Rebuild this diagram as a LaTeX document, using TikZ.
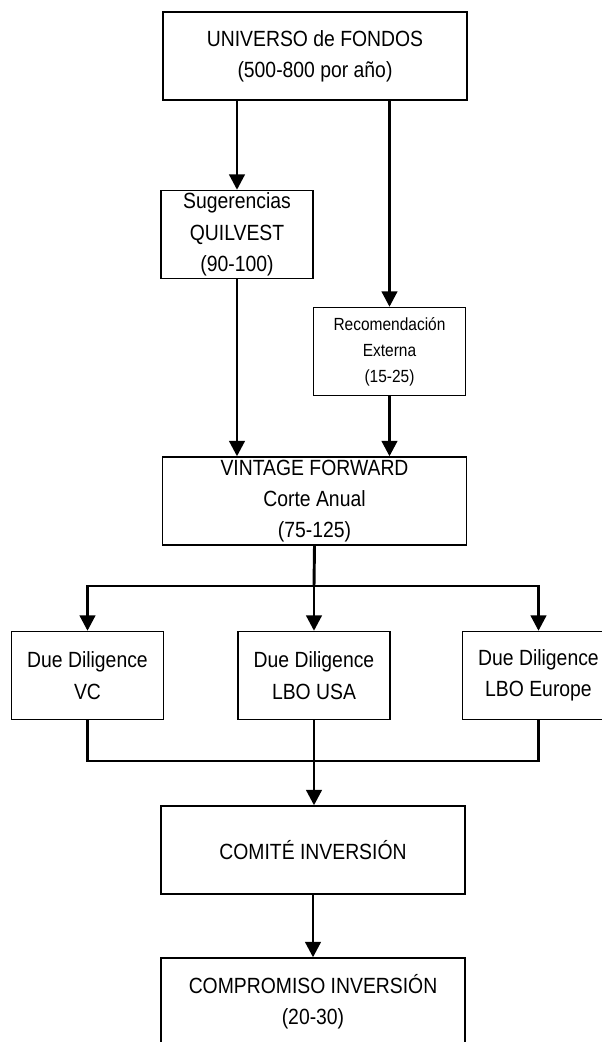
\documentclass[tikz,border=0pt]{standalone}
\usepackage{fontspec}
\setmainfont{Liberation Sans}[FakeStretch=0.88]
\usetikzlibrary{arrows.meta}
\begin{document}
\begin{tikzpicture}[x=0.75pt,y=-0.75pt,
  box/.style={draw=black, line width=1.05pt, fill=white, inner sep=0pt,
    align=center, font=\fontsize{16.5pt}{23.5pt}\selectfont},
  bigbox/.style={box, minimum width=228pt, minimum height=66pt},
  smallbox/.style={box, minimum width=114pt, minimum height=66pt},
  conn/.style={line width=2.2pt},
  arr/.style={conn, -{Triangle[width=11.5pt,length=11.5pt]}}
]
\useasboundingbox (0,0) rectangle (602,1042);
\fill[white] (0,0) rectangle (602,1042);
\clip (0,0) rectangle (602,1042);

\node[bigbox]   (U)  at (315,56)    {UNIVERSO de FONDOS\\(500-800 por año)};
\node[smallbox] (S)  at (237,234.5) {Sugerencias\\QUILVEST\\(90-100)};
\node[smallbox, font=\fontsize{13.2pt}{19.5pt}\selectfont] (R) at (389.5,351.5) {Recomendación\\Externa\\(15-25)};
\node[bigbox]   (V)  at (314.5,501) {VINTAGE FORWARD\\Corte Anual\\(75-125)};
\node[smallbox] (D1) at (87.5,675.5) {Due Diligence\\VC};
\node[smallbox] (D2) at (314,675.5) {Due Diligence\\LBO USA};
\node[smallbox] (D3) at (538.5,675.5) {Due Diligence\\LBO Europe};
\node[bigbox]   (C)  at (313,850)   {COMITÉ INVERSIÓN};
\node[bigbox]   (P)  at (313,1002)  {COMPROMISO INVERSIÓN\\(20-30)};

\coordinate (sp) at (314,586);
\coordinate (jn) at (314,761);

\draw[arr] (S.north |- U.south) -- (S.north);
\draw[arr] (R.north |- U.south) -- (R.north);
\draw[arr] (S.south) -- (S.south |- V.north);
\draw[arr] (R.south) -- (R.south |- V.north);

\draw[conn] (V.south) -- (sp);
\draw[arr] (sp) -| (D1.north);
\draw[arr] (sp) -| (D3.north);
\draw[arr] (sp) -- (D2.north);

\draw[conn, line width=1.8pt] (D1.south) |- (jn);
\draw[conn, line width=1.8pt] (D3.south) |- (jn);
\draw[arr] (D2.south) -- (D2.south |- C.north);

\draw[arr] (C.south) -- (C.south |- P.north);
\end{tikzpicture}
\end{document}
